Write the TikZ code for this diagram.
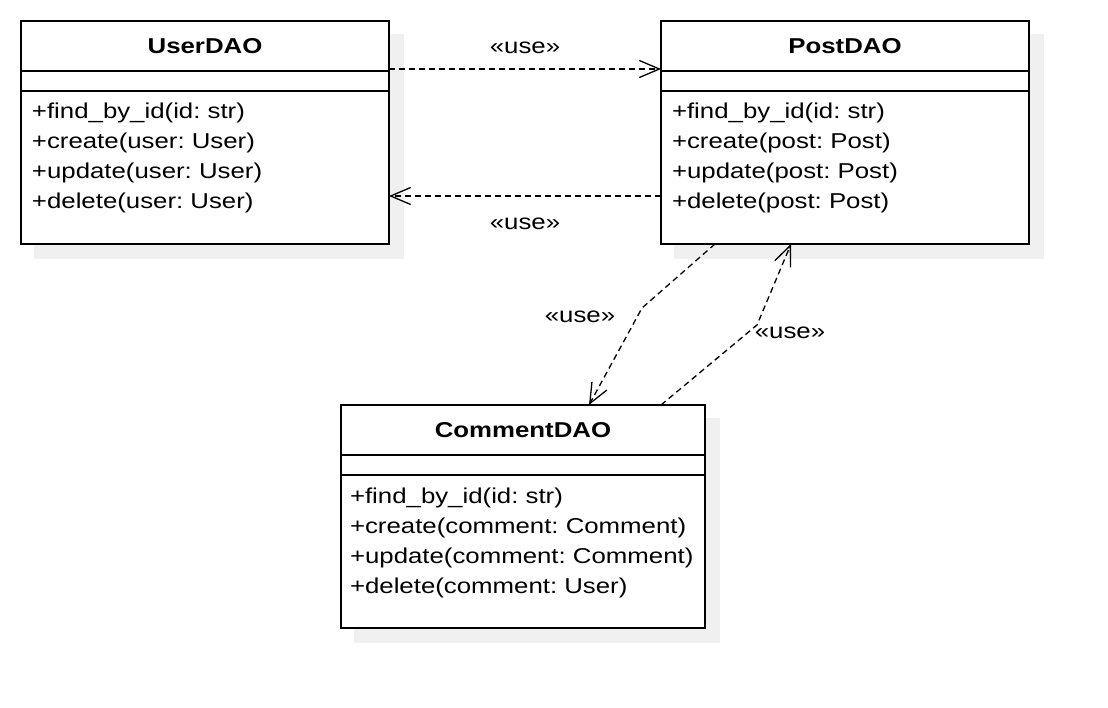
\documentclass[tikz,border=0pt]{standalone}
\usepackage{fontspec}
\setmainfont{Liberation Sans}[FakeStretch=1.2]
\usepackage{tikz}
\usetikzlibrary{matrix,arrows.meta,backgrounds}
\definecolor{shadowgray}{HTML}{F0F0F0}
\newcommand{\daofont}{\fontsize{21.5}{30}\selectfont}
\frenchspacing

\begin{document}
\begin{tikzpicture}[x=1pt,y=-1pt,font=\daofont,
	classbox/.style={matrix of nodes,anchor=north west,inner sep=0pt,row sep=-1.6pt,
	nodes={rectangle,draw,line width=1.6pt,fill=white,outer sep=0pt,minimum width=#1,inner xsep=9pt,inner ysep=0pt},
	row 1/.style={nodes={minimum height=50pt,font=\daofont\bfseries}},
	row 2/.style={nodes={minimum height=20pt}},
	row 3/.style={nodes={text width=346pt,align=left,text height=28pt,text depth=125pt}},
	},
	use/.style={line width=1.3pt,dash pattern=on 6pt off 4pt,-{Straight Barb[length=20pt,width=17pt]}},
	shadow/.style={fill=shadowgray},
	]
	\useasboundingbox (0,0) rectangle (1108,708);
	\matrix [classbox=368pt] (user) at (20,20)
	{
	UserDAO\\
	~\\
	{+find\_by\_id(id: str)\\+create(user: User)\\+update(user: User)\\+delete(user: User)}\\
	};
	\matrix [classbox=368pt] (post) at (660,20)
	{
	PostDAO\\
	~\\
	{+find\_by\_id(id: str)\\+create(post: Post)\\+update(post: Post)\\+delete(post: Post)}\\
	};
	\matrix [classbox=364pt] (comment) at (340,404)
	{
	CommentDAO\\
	~\\
	{+find\_by\_id(id: str)\\+create(comment: Comment)\\+update(comment: Comment)\\+delete(comment: User)}\\
	};
	\begin{scope}[on background layer]
	\foreach \cls in {user,post,comment}
		\fill[shadow] ([shift={(14pt,-14pt)}]\cls.north west) rectangle ([shift={(14pt,-14pt)}]\cls.south east);
	\end{scope}
	\draw[use] ([yshift=2pt]user-1-1.south east) -- ([yshift=2pt]post-1-1.south west) node[midway,yshift=21pt] {«use»};
	\draw[use] ([yshift=48pt]post-3-1.south west) -- ([yshift=48pt]user-3-1.south east) node[midway,yshift=-28pt] {«use»};
	\draw[use] ([xshift=54pt]post-3-1.south west) -- (642,308) -- ([xshift=248pt]comment-1-1.north west);
	\draw[use] ([xshift=-44pt]comment-1-1.north east) -- (757,325) -- ([xshift=130pt]post-3-1.south west);
	\node (usedown) at (580,317) {«use»};
	\node (useup) at (790,333) {«use»};
\end{tikzpicture}
\end{document}
